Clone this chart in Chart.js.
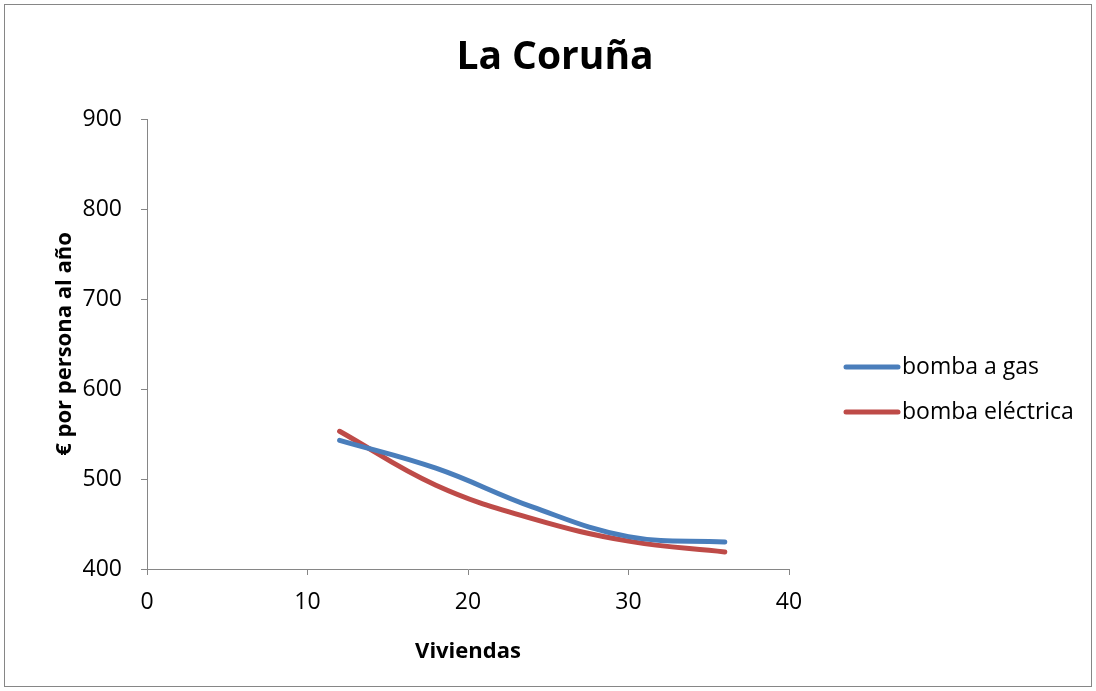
<!DOCTYPE html>
<html>
<head>
<meta charset="utf-8">
<script src="https://cdn.jsdelivr.net/npm/chart.js@4.4.1/dist/chart.umd.min.js"></script>
<style>
  html, body { margin: 0; padding: 0; background: #fff; }
  #wrap { width: 1096px; height: 691px; position: relative; }
</style>
</head>
<body>
<div id="wrap"><canvas id="c" width="1096" height="691"></canvas></div>
<script>
// Number of dwellings and yearly cost per person for each heat-pump type
const viviendas = [12, 18, 24, 30, 36];
const bombaGas = [543, 512, 469, 436, 430];
const bombaElectrica = [553, 493, 456, 431, 419];
const xTicks = [0, 10, 20, 30, 40];
const yTicks = [400, 500, 600, 700, 800, 900];

const FONT = "'Open Sans', 'Liberation Sans', sans-serif";
const AXIS_GREY = '#868686';

const toPoints = (xs, ys) => xs.map((x, i) => ({ x: x, y: ys[i] }));

// Outer frame, title and legend drawn on the canvas
const decorations = {
  id: 'decorations',
  beforeDraw(chart) {
    const ctx = chart.ctx;
    ctx.save();
    ctx.fillStyle = '#ffffff';
    ctx.fillRect(0, 0, chart.width, chart.height);
    ctx.strokeStyle = AXIS_GREY;
    ctx.lineWidth = 1;
    ctx.strokeRect(4.5, 4.5, chart.width - 9, chart.height - 9);
    ctx.restore();
  },
  afterDraw(chart) {
    const ctx = chart.ctx;
    ctx.save();
    ctx.fillStyle = '#000';
    ctx.textAlign = 'center';
    ctx.textBaseline = 'middle';
    ctx.font = 'bold 39px ' + FONT;
    ctx.fillText('La Coruña', 555, 58);

    ctx.textAlign = 'left';
    ctx.font = '23px ' + FONT;
    const rows = [367, 412];
    chart.data.datasets.forEach((ds, i) => {
      const y = rows[i];
      ctx.strokeStyle = ds.borderColor;
      ctx.lineWidth = 5;
      ctx.lineCap = 'round';
      ctx.beginPath();
      ctx.moveTo(846, y);
      ctx.lineTo(898, y);
      ctx.stroke();
      ctx.fillStyle = '#000';
      ctx.fillText(ds.label, 902, y);
    });
    ctx.restore();
  }
};

new Chart(document.getElementById('c'), {
  type: 'scatter',
  data: {
    datasets: [
      {
        label: 'bomba a gas',
        data: toPoints(viviendas, bombaGas),
        borderColor: '#4a7ebb',
        backgroundColor: '#4a7ebb',
        showLine: true,
        borderWidth: 5,
        borderCapStyle: 'round',
        pointRadius: 0,
        tension: 0.4
      },
      {
        label: 'bomba eléctrica',
        data: toPoints(viviendas, bombaElectrica),
        borderColor: '#be4b48',
        backgroundColor: '#be4b48',
        showLine: true,
        borderWidth: 5,
        borderCapStyle: 'round',
        pointRadius: 0,
        tension: 0.4
      }
    ]
  },
  options: {
    responsive: false,
    animation: false,
    events: [],
    layout: { padding: { top: 119, right: 307, bottom: 0, left: 0 } },
    plugins: {
      legend: { display: false },
      title: { display: false },
      tooltip: { enabled: false }
    },
    scales: {
      x: {
        type: 'linear',
        min: xTicks[0],
        max: xTicks[xTicks.length - 1],
        afterBuildTicks: (s) => { s.ticks = xTicks.map(v => ({ value: v })); },
        afterFit: (s) => { s.height = 122; },
        border: { display: true, color: AXIS_GREY, width: 1 },
        grid: { drawOnChartArea: false, drawTicks: true, tickLength: 6, color: AXIS_GREY },
        ticks: { color: '#000', font: { family: FONT, size: 23 }, padding: 14, maxRotation: 0 },
        title: {
          display: true,
          text: 'Viviendas',
          color: '#000',
          font: { family: FONT, size: 22, weight: 'bold' },
          padding: { top: 0, bottom: 26 }
        }
      },
      y: {
        type: 'linear',
        min: yTicks[0],
        max: yTicks[yTicks.length - 1],
        afterBuildTicks: (s) => { s.ticks = yTicks.map(v => ({ value: v })); },
        afterFit: (s) => { s.width = 147; },
        border: { display: true, color: AXIS_GREY, width: 1 },
        grid: { drawOnChartArea: false, drawTicks: true, tickLength: 6, color: AXIS_GREY },
        ticks: { color: '#000', font: { family: FONT, size: 23 }, padding: 19 },
        title: {
          display: true,
          text: '€ por persona al año',
          color: '#000',
          font: { family: FONT, size: 22, weight: 'bold' },
          padding: { top: 52, bottom: 0 }
        }
      }
    }
  },
  plugins: [decorations]
});
</script>
</body>
</html>
